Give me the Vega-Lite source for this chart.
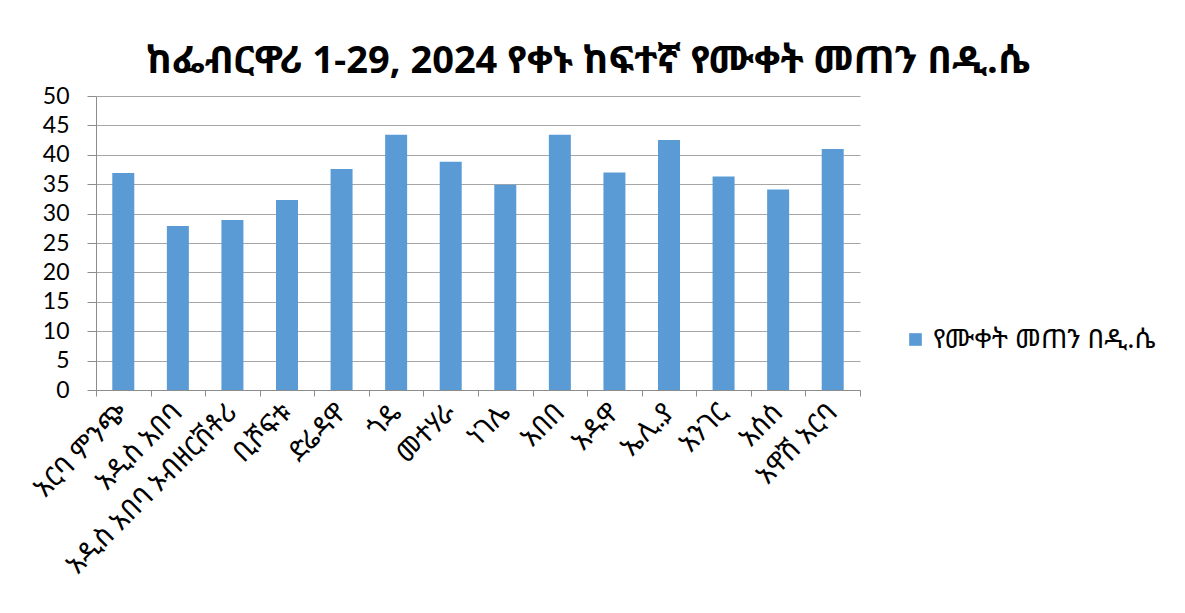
{
  "$schema": "https://vega.github.io/schema/vega-lite/v6.json",
  "width": 764,
  "height": 294,
  "autosize": {"type": "none"},
  "padding": {"left": 96, "top": 96, "right": 325, "bottom": 223},
  "background": "white",
  "title": {
    "text": "ከፌብርዋሪ 1-29, 2024 የቀኑ ከፍተኛ የሙቀት መጠን በዲ.ሴ",
    "font": "Noto Sans Ethiopic, Abyssinica SIL, DejaVu Sans, Noto Sans",
    "fontSize": 38,
    "fontWeight": "bold",
    "color": "black",
    "anchor": "middle",
    "dx": 110,
    "offset": 4
  },
  "data": {
    "values": [
      {"station": "አርባ ምንጭ", "temp": 36.9, "series": "የሙቀት መጠን በዲ.ሴ"},
      {"station": "አዲስ አበባ", "temp": 27.9, "series": "የሙቀት መጠን በዲ.ሴ"},
      {"station": "አዲስ አበባ ኦብዘርቨቶሪ", "temp": 28.9, "series": "የሙቀት መጠን በዲ.ሴ"},
      {"station": "ቢሾፍቱ", "temp": 32.3, "series": "የሙቀት መጠን በዲ.ሴ"},
      {"station": "ድሬዳዋ", "temp": 37.6, "series": "የሙቀት መጠን በዲ.ሴ"},
      {"station": "ጎዴ", "temp": 43.4, "series": "የሙቀት መጠን በዲ.ሴ"},
      {"station": "መተሃራ", "temp": 38.8, "series": "የሙቀት መጠን በዲ.ሴ"},
      {"station": "ነገሌ", "temp": 34.9, "series": "የሙቀት መጠን በዲ.ሴ"},
      {"station": "አበበ", "temp": 43.4, "series": "የሙቀት መጠን በዲ.ሴ"},
      {"station": "አዱዋ", "temp": 37.0, "series": "የሙቀት መጠን በዲ.ሴ"},
      {"station": "ኤሊ.ያ", "temp": 42.5, "series": "የሙቀት መጠን በዲ.ሴ"},
      {"station": "አንገር", "temp": 36.3, "series": "የሙቀት መጠን በዲ.ሴ"},
      {"station": "አሰሰ", "temp": 34.1, "series": "የሙቀት መጠን በዲ.ሴ"},
      {"station": "አዋሽ አርባ", "temp": 41.0, "series": "የሙቀት መጠን በዲ.ሴ"}
    ]
  },
  "mark": {"type": "bar", "width": 22},
  "encoding": {
    "x": {
      "field": "station",
      "type": "nominal",
      "sort": null,
      "scale": {"paddingInner": 0, "paddingOuter": 0},
      "axis": {
        "title": null,
        "labelAngle": -45,
        "labelAlign": "right",
        "labelBaseline": "middle",
        "labelFont": "Noto Sans Ethiopic, Abyssinica SIL, DejaVu Sans, Noto Sans",
        "labelFontSize": 27,
        "labelColor": "black",
        "labelPadding": 12,
        "labelLimit": 400,
        "labelOverlap": false,
        "domainColor": "#8c8c8c",
        "tickColor": "#8c8c8c",
        "tickSize": 6,
        "tickBand": "extent",
        "grid": false
      }
    },
    "y": {
      "field": "temp",
      "type": "quantitative",
      "scale": {"domain": [0, 50], "nice": false},
      "axis": {
        "title": null,
        "values": [0, 5, 10, 15, 20, 25, 30, 35, 40, 45, 50],
        "labelFont": "Lato",
        "labelFontSize": 23,
        "labelColor": "black",
        "labelPadding": 18,
        "tickSize": 9,
        "tickColor": "#8c8c8c",
        "domainColor": "#8c8c8c",
        "gridColor": "#a6a6a6",
        "grid": true
      }
    },
    "color": {
      "field": "series",
      "type": "nominal",
      "scale": {"range": ["#5B9BD5"]},
      "legend": {
        "title": null,
        "orient": "none",
        "legendX": 806,
        "legendY": 230,
        "symbolType": "square",
        "symbolSize": 160,
        "symbolStrokeWidth": 0,
        "labelFont": "Noto Sans Ethiopic, Abyssinica SIL, DejaVu Sans, Noto Sans",
        "labelFontSize": 27,
        "labelColor": "black",
        "labelLimit": 400
      }
    }
  },
  "config": {
    "view": {"stroke": null}
  }
}
